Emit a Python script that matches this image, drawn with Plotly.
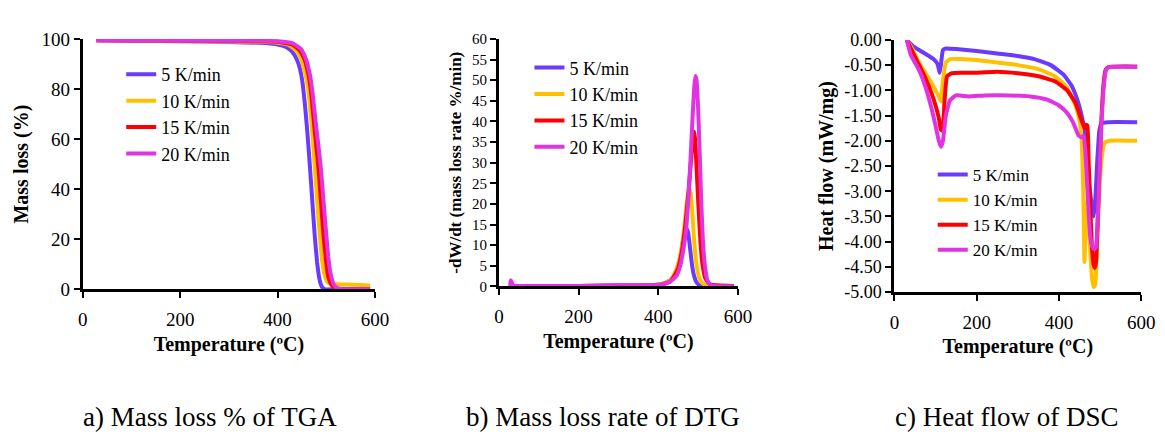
import plotly.graph_objects as go

# heating rates and colours
rates = ["5 K/min", "10 K/min", "15 K/min", "20 K/min"]
colors = ["#6A3BFF", "#FFC000", "#FF0000", "#E233E2"]

# a) TGA mass loss (%)
tga_t = [
    [28, 100, 200, 300, 380, 410, 425, 435, 443, 450, 456, 461, 466, 471, 476, 481, 486, 491, 497, 520, 590],
    [28, 100, 200, 300, 390, 420, 435, 445, 453, 460, 466, 471, 476, 481, 486, 491, 496, 502, 510, 520, 560, 590],
    [28, 100, 200, 300, 400, 430, 445, 455, 462, 468, 474, 479, 484, 489, 494, 499, 504, 510, 518, 530, 590],
    [28, 100, 200, 300, 400, 430, 448, 458, 466, 472, 478, 484, 489, 494, 499, 504, 509, 515, 522, 535, 590],
]
tga_m = [
    [99.5, 99.3, 99.1, 98.8, 98.3, 97.3, 95.8, 93.5, 90, 84, 74, 63, 50, 36, 22, 11, 4, 1, 0, 0, 0],
    [99.5, 99.4, 99.2, 99.0, 98.7, 97.8, 96, 93.5, 89, 83, 74, 63, 50, 36, 23, 12, 6, 3, 2.2, 2.0, 1.8, 1.5],
    [99.5, 99.4, 99.3, 99.2, 98.9, 97.8, 95.5, 92, 87, 80, 68, 58, 48, 35, 22, 12, 5, 2, 0.5, 0, 0],
    [99.5, 99.5, 99.4, 99.3, 99.1, 98.3, 96, 92, 86, 78, 67, 57, 48, 36, 24, 13, 6, 2, 0.5, 0, 0],
]

# b) DTG mass loss rate (%/min)
dtg_t = [
    [30, 100, 200, 300, 380, 410, 430, 440, 450, 456, 462, 467, 471, 475, 480, 485, 490, 496, 505, 520, 590],
    [30, 100, 200, 300, 380, 410, 430, 440, 450, 458, 465, 470, 475, 479, 482, 486, 490, 495, 500, 508, 520, 590],
    [30, 100, 200, 300, 380, 410, 430, 440, 450, 460, 468, 475, 480, 485, 488, 490, 492, 496, 500, 505, 510, 518, 530, 590],
    [28, 30, 33, 36, 40, 100, 200, 300, 380, 410, 430, 445, 455, 463, 470, 476, 481, 486, 490, 493, 496, 500, 504, 508, 512, 517, 523, 530, 540, 590],
]
dtg_r = [
    [0.1, 0.1, 0.1, 0.2, 0.3, 0.6, 1.5, 2.8, 5, 7.5, 11, 13.5, 14, 13, 9, 5, 2.5, 1, 0.3, 0.1, 0.05],
    [0.1, 0.1, 0.1, 0.2, 0.3, 0.6, 1.5, 3, 5.5, 9, 14, 19, 22.5, 23.5, 22, 17, 11, 6, 3, 1, 0.3, 0.05],
    [0.1, 0.1, 0.1, 0.2, 0.3, 0.5, 1.2, 2.5, 4.5, 9, 15, 22, 28, 34, 37, 37.5, 36, 29, 21, 12, 6, 2, 0.5, 0.1],
    [0.1, 1.5, 0.8, 0.2, 0.1, 0.1, 0.1, 0.2, 0.3, 0.5, 1.2, 2.5, 5, 9, 14, 22, 31, 41, 48, 51, 50, 43, 32, 20, 11, 5, 1.5, 0.4, 0.1, 0.05],
]

# c) DSC heat flow (mW/mg)
dsc_t = [
    [30, 45, 60, 80, 95, 105, 110, 113, 118, 125, 150, 200, 250, 300, 340, 380, 410, 430, 445, 455, 462, 468, 474, 480, 484, 488, 493, 498, 503, 520, 590],
    [30, 45, 60, 75, 90, 100, 108, 113, 118, 125, 135, 160, 200, 250, 300, 350, 390, 420, 440, 450, 455, 459, 462, 465, 468, 472, 476, 480, 484, 488, 492, 497, 503, 510, 520, 590],
    [30, 45, 60, 75, 90, 100, 108, 113, 117, 122, 128, 140, 160, 200, 250, 300, 350, 390, 420, 440, 455, 462, 466, 469, 472, 476, 480, 484, 487, 490, 494, 498, 503, 508, 513, 520, 590],
    [30, 40, 50, 60, 70, 80, 90, 100, 108, 113, 118, 125, 135, 150, 180, 220, 280, 330, 370, 400, 420, 435, 448, 455, 460, 464, 468, 472, 476, 481, 486, 490, 494, 498, 503, 508, 514, 520, 590],
]
dsc_h = [
    [0, -0.12, -0.2, -0.3, -0.38, -0.48, -0.65, -0.5, -0.2, -0.17, -0.18, -0.22, -0.27, -0.32, -0.38, -0.5, -0.68, -0.9, -1.2, -1.5, -1.8, -2.3, -2.9, -3.3, -3.5, -3.2, -2.4, -1.8, -1.65, -1.63, -1.63],
    [0, -0.2, -0.45, -0.65, -0.85, -1.0, -1.12, -1.22, -0.8, -0.45, -0.38, -0.38, -0.4, -0.45, -0.5, -0.58, -0.72, -0.95, -1.3, -1.6, -2.0, -3.0, -4.4, -3.5, -3.2, -3.6, -4.2, -4.7, -4.9, -4.85, -4.2, -3.2, -2.4, -2.05, -2.0, -2.0],
    [0, -0.25, -0.5, -0.75, -1.05, -1.3, -1.55, -1.78, -1.8, -1.2, -0.72, -0.66, -0.65, -0.65, -0.63, -0.66, -0.72, -0.82, -1.0, -1.25, -1.6, -1.75, -1.68, -1.7, -2.4, -3.3, -4.1, -4.45, -4.52, -4.4, -3.6, -2.6, -1.6, -0.9, -0.6, -0.54, -0.53],
    [0, -0.3, -0.45, -0.6, -0.8, -1.05, -1.35, -1.7, -2.0, -2.12, -2.0, -1.5, -1.2, -1.1, -1.12, -1.1, -1.1, -1.12, -1.18, -1.3, -1.45, -1.65, -1.9, -1.93, -1.9, -2.2, -2.8, -3.4, -3.9, -4.1, -4.15, -4.1, -3.6, -2.7, -1.7, -1.0, -0.6, -0.54, -0.53],
]

dsc_ticks = [0, -0.5, -1, -1.5, -2, -2.5, -3, -3.5, -4, -4.5, -5]
dsc_ticktext = ["0.00", "-0.50", "-1.00", "-1.50", "-2.00", "-2.50", "-3.00", "-3.50", "-4.00", "-4.50", "-5.00"]

captions = ["a) Mass loss % of TGA", "b) Mass loss rate of DTG", "c) Heat flow of DSC"]

W, H = 1165, 437
FONT = "Times New Roman, Liberation Serif, serif"


def px_x(p):
    return p / W


def px_y(p):
    return 1 - p / H


fig = go.Figure()

panels = [
    (tga_t, tga_m, "x", "y", "legend"),
    (dtg_t, dtg_r, "x2", "y2", "legend2"),
    (dsc_t, dsc_h, "x3", "y3", "legend3"),
]
for ts, vs, xa, ya, lg in panels:
    for i in range(4):
        fig.add_trace(go.Scatter(
            x=ts[i], y=vs[i], mode="lines", name=rates[i],
            line=dict(color=colors[i], width=4, shape="spline", smoothing=0.4),
            xaxis=xa, yaxis=ya, legend=lg, legendgroup=lg + str(i),
        ))

axis_common = dict(
    showgrid=False, zeroline=False, showline=True, linecolor="black", linewidth=3,
    ticks="outside", ticklen=6, tickwidth=2, tickcolor="black",
    tickfont=dict(family=FONT, size=19, color="black"),
)
xtitle = dict(text="<b>Temperature (ºC)</b>", font=dict(family=FONT, size=20, color="black"), standoff=8)

fig.update_layout(
    width=W, height=H, margin=dict(l=0, r=0, t=0, b=0),
    paper_bgcolor="white", plot_bgcolor="white", showlegend=True,
    xaxis=dict(axis_common, domain=[px_x(71), px_x(368)], range=[0, 600], dtick=200,
               anchor="y", title=xtitle, ticklabelstandoff=5),
    yaxis=dict(axis_common, domain=[px_y(285), px_y(22)], range=[0, 100], dtick=20,
               anchor="x", title=dict(text="<b>Mass loss (%)</b>", font=dict(family=FONT, size=20, color="black"), standoff=8)),
    xaxis2=dict(axis_common, domain=[px_x(494), px_x(737)], range=[0, 600], dtick=200,
                anchor="y2", title=xtitle, ticklabelstandoff=5),
    yaxis2=dict(axis_common, domain=[px_y(282), px_y(22)], range=[0, 60], dtick=5,
                anchor="x2", tickfont=dict(family=FONT, size=15, color="black"),
                title=dict(text="<b>-dW/dt (mass loss rate %/min)</b>", font=dict(family=FONT, size=17, color="black"), standoff=6)),
    xaxis3=dict(axis_common, domain=[px_x(896), px_x(1147)], range=[0, 600], dtick=200,
                anchor="y3", title=xtitle, ticklabelstandoff=5),
    yaxis3=dict(axis_common, domain=[px_y(288), px_y(23)], range=[-5, 0],
                tickvals=dsc_ticks, ticktext=dsc_ticktext, anchor="x3",
                tickfont=dict(family=FONT, size=18, color="black"),
                title=dict(text="<b>Heat flow (mW/mg)</b>", font=dict(family=FONT, size=20, color="black"), standoff=6)),
    legend=dict(x=px_x(110), y=px_y(40), xanchor="left", yanchor="top", bgcolor="rgba(0,0,0,0)",
                font=dict(family=FONT, size=18, color="black"), tracegroupgap=0),
    legend2=dict(x=px_x(525), y=px_y(33), xanchor="left", yanchor="top", bgcolor="rgba(0,0,0,0)",
                 font=dict(family=FONT, size=18, color="black"), tracegroupgap=0),
    legend3=dict(x=px_x(935), y=px_y(146), xanchor="left", yanchor="top", bgcolor="rgba(0,0,0,0)",
                 font=dict(family=FONT, size=17, color="black"), tracegroupgap=0),
)

cap_x = [200, 600, 1010]
for cx, txt in zip(cap_x, captions):
    fig.add_annotation(x=px_x(cx), y=0, xref="paper", yref="paper", xanchor="center", yanchor="bottom",
                       text=txt, showarrow=False, font=dict(family=FONT, size=27, color="black"))

fig.write_html("out.html")
